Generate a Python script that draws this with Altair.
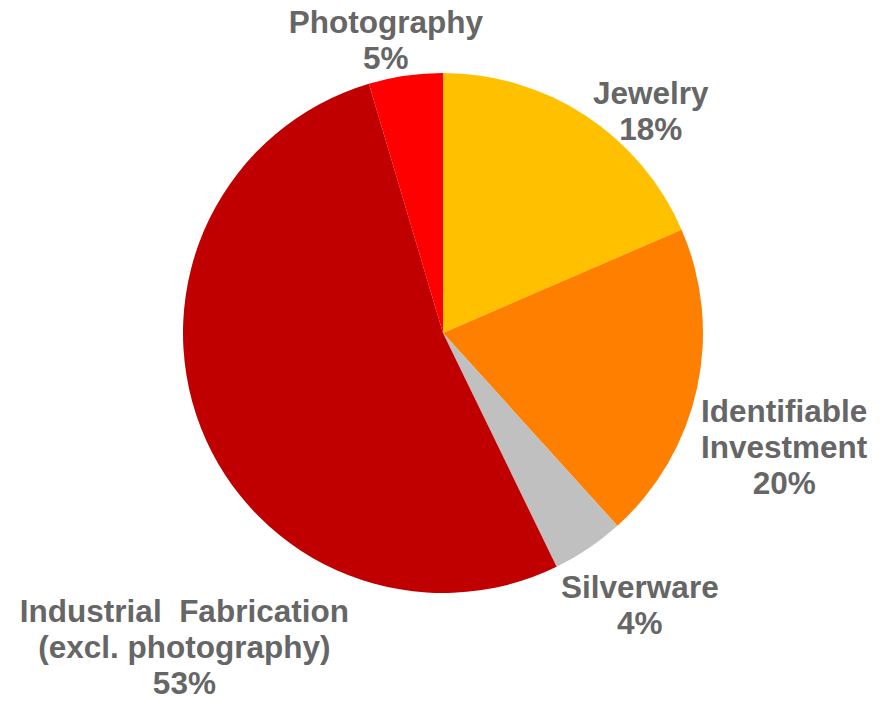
import altair as alt
import pandas as pd

# ---- data ----
categories = ["Jewelry", "Identifiable Investment", "Silverware",
              "Industrial Fabrication (excl. photography)", "Photography"]
label_text = ["Jewelry", "Identifiable\nInvestment", "Silverware",
              "Industrial\u00a0 Fabrication\n(excl. photography)", "Photography"]
values = [18.5, 19.8, 4.5, 52.6, 4.6]
pct_labels = ["18%", "20%", "4%", "53%", "5%"]
colors = ["#FFC000", "#FF8000", "#C0C0C0", "#C00000", "#FF0000"]

# ---- layout (label offsets from the slice mid-angle point) ----
label_radius = 300
label_offsets = {
    "Jewelry": (43, 13),
    "Identifiable Investment": (48, 16),
    "Silverware": (29, 7),
    "Industrial Fabrication (excl. photography)": (21, 171),
    "Photography": (-14, -12),
}

df = pd.DataFrame({
    "category": categories,
    "value": values,
    "order": list(range(len(categories))),
    "label": [f"{t}\n{p}" for t, p in zip(label_text, pct_labels)],
})

total = sum(values)
theta_scale = alt.Scale(domain=[0, total])

arc = alt.Chart(df).mark_arc(outerRadius=260).encode(
    theta=alt.Theta("value:Q", stack=True, scale=theta_scale),
    order=alt.Order("order:Q"),
    color=alt.Color("category:N", scale=alt.Scale(domain=categories, range=colors), legend=None),
)

text_base = alt.Chart(df).transform_stack(
    stack="value", groupby=[], as_=["v0", "v1"], sort=[alt.SortField("order")]
).transform_calculate(mid="(datum.v0 + datum.v1) / 2")

layers = [arc]
for cat in categories:
    dx, dy = label_offsets[cat]
    layers.append(
        text_base.transform_filter(alt.datum.category == cat).mark_text(
            radius=label_radius, dx=dx, dy=dy,
            font="Liberation Sans", fontWeight="bold", fontSize=31.5,
            lineHeight=36, lineBreak="\n", color="#666666",
            align="center", baseline="middle",
        ).encode(
            theta=alt.Theta("mid:Q", scale=theta_scale),
            text="label:N",
        )
    )

chart = alt.layer(*layers).properties(
    width=886, height=666,
    padding={"left": 0, "right": 1, "top": 0, "bottom": 35},
    autosize=alt.AutoSizeParams(type="none"),
).configure_view(stroke=None)

chart.save("out.html", embed_options={"renderer": "svg", "actions": False})
